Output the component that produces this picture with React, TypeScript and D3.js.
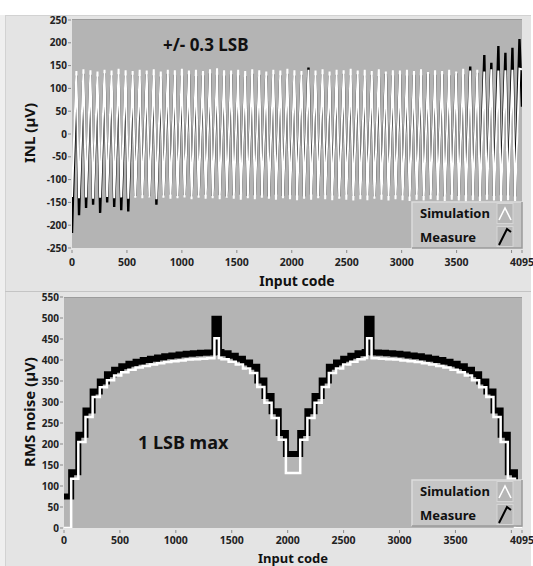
import React from 'react'
import * as d3 from 'd3'

const W = 533
const H = 566

// x axis (both plots)
const xTicks = [0, 500, 1000, 1500, 2000, 2500, 3000, 3500, 4000, 4095]
const xLabels = ['0', '500', '1000', '1500', '2000', '2500', '3000', '3500', '', '4095']

// INL plot
const inlTicks = [-250, -200, -150, -100, -50, 0, 50, 100, 150, 200, 250]
// per 64-code period: peak values of the white simulation and black measure traces (µV)
const inlSimMax = [
  138, 142, 140, 137, 141, 139, 143, 140, 138, 141,
  139, 142, 137, 141, 140, 143, 139, 141, 138, 142,
  144, 140, 139, 141, 138, 142, 140, 137, 141, 139,
  143, 140, 138, 141, 139, 142, 137, 141, 140, 143,
  139, 141, 138, 142, 137, 140, 139, 141, 138, 142,
  136, 140, 138, 141, 137, 143, 139, 141, 137, 142,
  139, 140, 141, 143,
]
const inlSimMin = [
  -138, -141, -139, -142, -140, -138, -141, -139, -142, -140,
  -141, -139, -143, -140, -142, -141, -139, -143, -140, -142,
  -141, -143, -140, -142, -144, -141, -143, -140, -142, -144,
  -141, -143, -145, -142, -144, -141, -143, -145, -142, -144,
  -146, -143, -145, -142, -144, -146, -143, -145, -147, -144,
  -146, -143, -145, -147, -144, -146, -148, -145, -147, -144,
  -146, -148, -145, -147,
]
const inlMeasMax = [
  128, 132, 130, 126, 133, 129, 131, 128, 130, 127,
  131, 129, 126, 132, 130, 128, 131, 127, 129, 133,
  130, 128, 131, 129, 127, 132, 130, 128, 131, 129,
  132, 128, 130, 146, 129, 131, 128, 130, 132, 129,
  131, 128, 130, 127, 132, 129, 131, 128, 130, 129,
  132, 130, 131, 129, 133, 131, 148, 134, 173, 156,
  193, 178, 189, 208,
]
const inlMeasMin = [
  -217, -178, -162, -155, -173, -150, -160, -167, -170, -136,
  -134, -137, -155, -135, -133, -136, -134, -137, -135, -133,
  -136, -134, -137, -135, -133, -136, -134, -135, -137, -133,
  -136, -134, -135, -137, -133, -136, -134, -135, -137, -133,
  -136, -134, -135, -137, -133, -136, -134, -135, -137, -133,
  -136, -134, -135, -137, -133, -136, -134, -135, -137, -133,
  -136, -134, -135, -137,
]

// RMS noise plot
const rmsTicks = [0, 50, 100, 150, 200, 250, 300, 350, 400, 450, 500, 550]
// one value per 64-code segment (µV)
const rmsSim = [
  0, 117, 205, 264, 312, 335, 352, 363, 371, 377, 382, 386, 389, 392, 395, 397,
  399, 401, 402, 403, 404, 405, 402, 396, 389, 380, 369, 336, 298, 262, 210, 131,
  131, 210, 262, 298, 336, 369, 380, 389, 396, 402, 405, 404, 403, 402, 401, 399,
  397, 395, 392, 389, 386, 382, 377, 371, 363, 352, 335, 312, 264, 205, 117, 0,
]
const rmsMeas = [
  75, 133, 222, 280, 325, 349, 366, 377, 385, 391, 396, 400, 403, 406, 409, 411,
  413, 415, 416, 417, 418, 419, 416, 410, 403, 394, 384, 351, 314, 278, 226, 176,
  176, 226, 278, 314, 351, 384, 394, 403, 410, 416, 419, 418, 417, 416, 415, 413,
  411, 409, 406, 403, 400, 396, 391, 385, 377, 366, 349, 325, 280, 222, 133, 75,
]
const spikeCodes = [1365, 2730]
const spikeSim = [452, 452]
const spikeMeas = [498, 498]

const FONT = '"Noto Sans", "Open Sans", sans-serif'
const PLOT_BG = '#b4b4b4'
const PANEL_BG = '#e4e4e4'

function inlPoints(mins: number[], maxs: number[], last: number) {
  const pts: [number, number][] = []
  mins.forEach((m, k) => {
    pts.push([k * 64, m])
    pts.push([k * 64 + 40, maxs[k]])
  })
  pts.push([4095, last])
  return pts
}

function rmsPoints(vals: number[], spikes: number[]) {
  const pts: [number, number][] = []
  vals.forEach((v, i) => {
    const s = i * 64
    const sp = spikeCodes.findIndex(c => c >= s && c < s + 64)
    if (sp < 0) pts.push([s, v])
    else {
      const c = spikeCodes[sp]
      pts.push([s, v], [c - 20, spikes[sp]], [c + 20, v])
    }
  })
  pts.push([4095, vals[vals.length - 1]])
  return pts
}

function Legend({ x, y }: { x: number; y: number }) {
  return (
    <g transform={`translate(${x},${y})`}>
      <rect x={0} y={0} width={110} height={46} fill="#c6c6c6" />
      <path d="M0,46V0H110" fill="none" stroke="#dcdcdc" strokeWidth={1.5} />
      <path d="M0,46H110V0" fill="none" stroke="#9a9a9a" strokeWidth={1.5} />
      <text x={8} y={16} fontFamily={FONT} fontWeight="bold" fontSize={13} fill="#111">Simulation</text>
      <text x={8} y={40} fontFamily={FONT} fontWeight="bold" fontSize={13} fill="#111">Measure</text>
      <rect x={85} y={1.5} width={16} height={20} fill="#b6b6b6" stroke="#d6d6d6" />
      <rect x={85} y={24.5} width={16} height={20} fill="#b6b6b6" stroke="#d6d6d6" />
      <path d="M87,18L93,6L99,18" fill="none" stroke="#fff" strokeWidth={1.6} />
      <path d="M87,43L95,27L99,30" fill="none" stroke="#000" strokeWidth={2} />
    </g>
  )
}

function Axes({ x, y, yTicks, title, titleY, labelY, titleGap, titleSize }: any) {
  const [x0, x1] = x.range()
  const [y0] = y.range()
  return (
    <g fontFamily={FONT} fontWeight="bold" fill="#222">
      {yTicks.map((t: number) => (
        <g key={t}>
          <line x1={x0 - 4} x2={x0 - 1} y1={y(t)} y2={y(t)} stroke="#888" />
          <text x={x0 - 5} y={y(t) + 3.5} textAnchor="end" fontSize={10}>{t}</text>
        </g>
      ))}
      {xTicks.map((t, i) => (
        <g key={t}>
          <line x1={x(t)} x2={x(t)} y1={y0 + 2} y2={y0 + 5} stroke="#888" />
          <text x={x(t)} y={y0 + labelY} textAnchor="middle" fontSize={10.5}>{xLabels[i]}</text>
        </g>
      ))}
      <text x={(x0 + x1) / 2} y={y0 + titleGap} textAnchor="middle" fontSize={titleSize} fill="#111">Input code</text>
      <text transform={`translate(35,${titleY}) rotate(-90)`} textAnchor="middle" fontSize={15} fill="#111">{title}</text>
    </g>
  )
}

export default function App() {
  const xTop = d3.scaleLinear().domain([0, 4095]).range([72, 522])
  const yTop = d3.scaleLinear().domain([-250, 250]).range([248, 20])
  const xBot = d3.scaleLinear().domain([0, 4095]).range([64, 522])
  const yBot = d3.scaleLinear().domain([0, 550]).range([528, 297])

  const lineTop = d3.line<[number, number]>().x(d => xTop(d[0])).y(d => yTop(d[1]))
  const lineBot = d3.line<[number, number]>().x(d => xBot(d[0])).y(d => yBot(d[1])).curve(d3.curveStepAfter)

  const simInl = lineTop(inlPoints(inlSimMin, inlSimMax, 142)) || ''
  const measInl = lineTop(inlPoints(inlMeasMin, inlMeasMax, 60)) || ''
  const simRms = lineBot(rmsPoints(rmsSim, spikeSim)) || ''
  const measRms = lineBot(rmsPoints(rmsMeas, spikeMeas)) || ''

  return (
    <svg width={W} height={H} style={{ position: 'absolute', left: 0, top: 0 }}>
      <defs>
        <clipPath id="clipTop"><rect x={72} y={19} width={450} height={229} /></clipPath>
        <clipPath id="clipBot"><rect x={64} y={297} width={458} height={231} /></clipPath>
      </defs>
      <rect width={W} height={H} fill="#fff" />
      <rect x={0} y={15} width={5} height={H - 15} fill="#efefef" />
      <rect x={5} y={15} width={526} height={H - 15} fill={PANEL_BG} />
      <line x1={5} x2={531} y1={15.5} y2={15.5} stroke="#d2d2d2" />
      <line x1={5.5} x2={5.5} y1={15} y2={H} stroke="#d2d2d2" />
      <line x1={5} x2={531} y1={291.5} y2={291.5} stroke="#c4c4c4" />

      {/* INL plot */}
      <rect x={72} y={19} width={450} height={229} fill={PLOT_BG} />
      <line x1={72} x2={522} y1={19.5} y2={19.5} stroke="#9c9c9c" />
      <g clipPath="url(#clipTop)" fill="none">
        <path d={measInl} stroke="#000" strokeWidth={2.4} />
        <path d={simInl} stroke="#fff" strokeWidth={2} />
      </g>
      <Axes x={xTop} y={yTop} yTicks={inlTicks} title="INL (µV)" titleY={133} labelY={18} titleGap={38} titleSize={14} />
      <text x={163} y={51} fontFamily={FONT} fontWeight="bold" fontSize={17} fill="#111">+/- 0.3 LSB</text>
      <Legend x={412} y={202} />

      {/* RMS noise plot */}
      <rect x={64} y={297} width={458} height={231} fill={PLOT_BG} />
      <line x1={64} x2={522} y1={297.5} y2={297.5} stroke="#9c9c9c" />
      <g clipPath="url(#clipBot)" fill="none">
        <path d={measRms} stroke="#000" strokeWidth={6} />
        <path d={simRms} stroke="#fff" strokeWidth={2.5} />
      </g>
      <Axes x={xBot} y={yBot} yTicks={rmsTicks} title="RMS noise (µV)" titleY={412} labelY={16} titleGap={34.5} titleSize={13} />
      <text x={138} y={449} fontFamily={FONT} fontWeight="bold" fontSize={18} fill="#111">1 LSB max</text>
      <Legend x={412} y={480} />
    </svg>
  )
}
